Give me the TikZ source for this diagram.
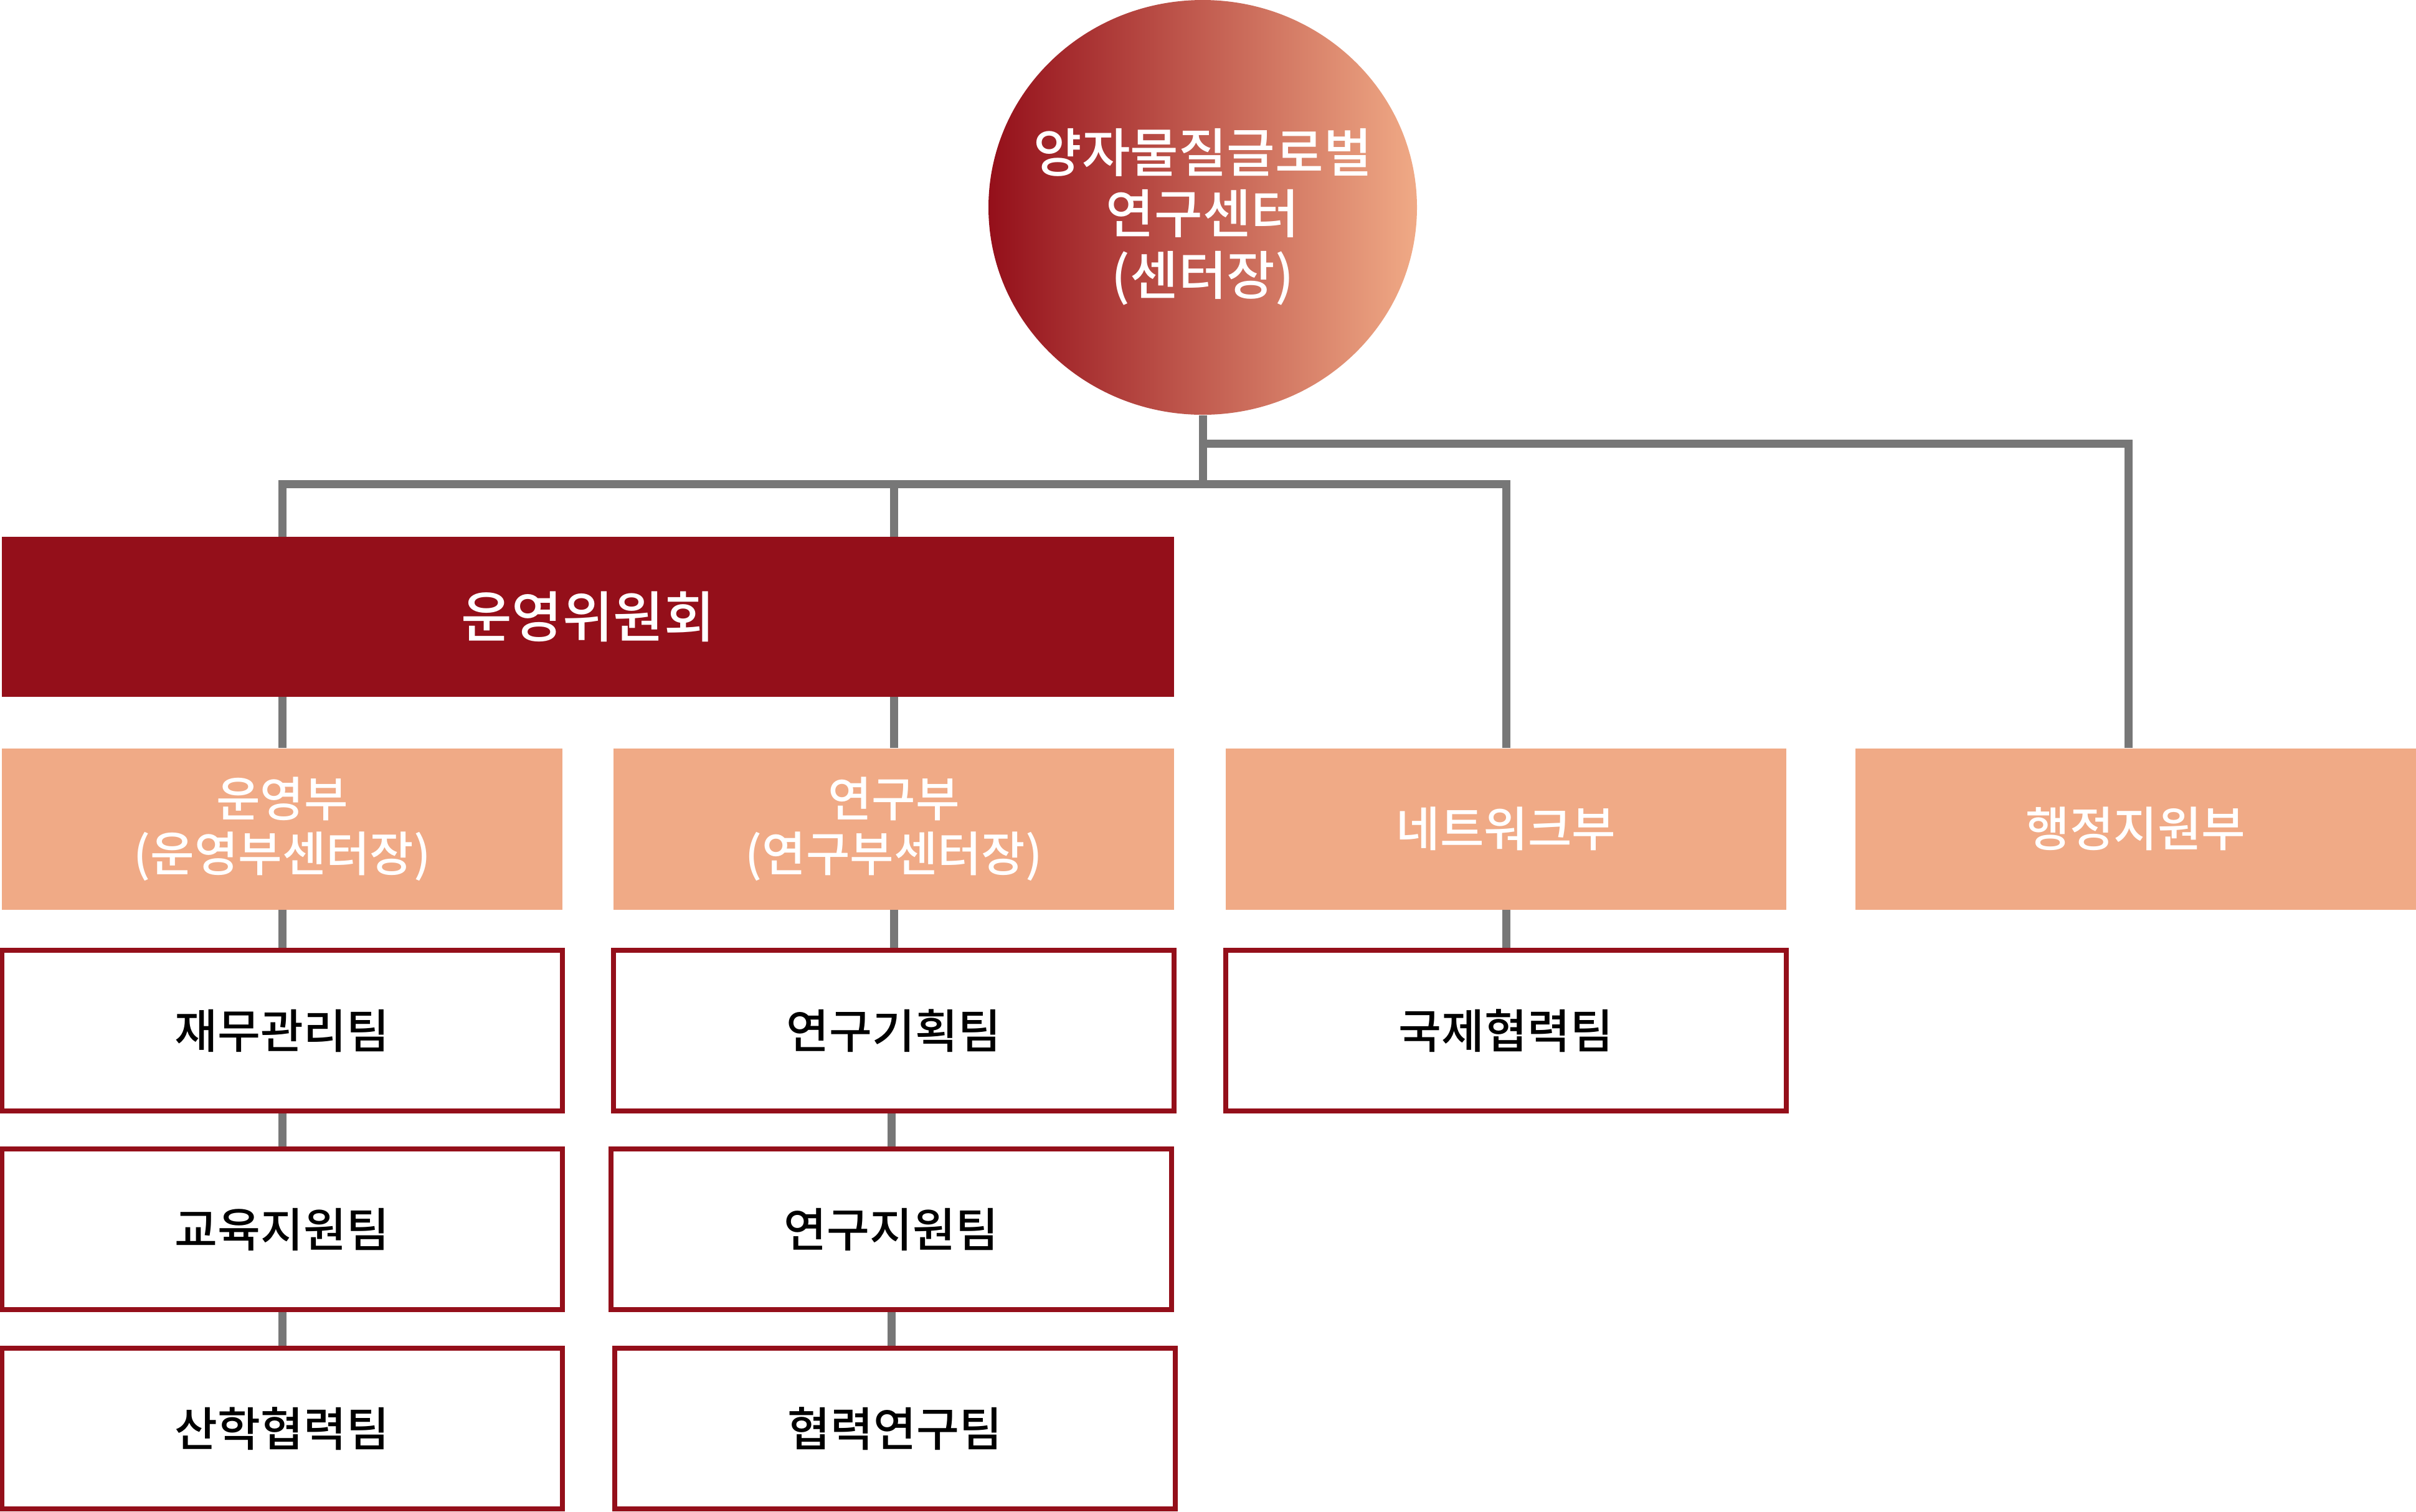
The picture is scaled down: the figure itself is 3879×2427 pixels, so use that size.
\documentclass[tikz,border=0pt]{standalone}
\usepackage{fontspec}
\setmainfont{Noto Sans CJK KR}[UprightFont=* Medium, BoldFont=* Bold]
\usepackage{xcolor}
\usepackage{tikz}
\definecolor{boardred}{HTML}{940F1A}
\definecolor{deptpeach}{HTML}{F0AA86}
\definecolor{linkgray}{HTML}{777777}
\usetikzlibrary{shapes.geometric, positioning}
\pgfdeclarelayer{bg}
\pgfsetlayers{bg,main}
\tikzset{
  dept/.style={rectangle, fill=deptpeach, text=white, minimum width=90mm, minimum height=25.9mm, align=center, inner sep=0pt, font=\fontsize{21.8pt}{25pt}\selectfont},
  team/.style={rectangle, draw=boardred, line width=0.8mm, fill=white, minimum width=90mm, minimum height=25.8mm, align=center, inner sep=0pt, font=\fontsize{21.3pt}{24pt}\selectfont},
  link/.style={draw=linkgray, line width=1.3mm}
}

\begin{document}
\begin{tikzpicture}[x=0.1mm, y=-0.1mm]
			\useasboundingbox (0,0) rectangle (3879,2427);
			\node[ellipse, minimum width=68.8mm, minimum height=66.6mm, inner sep=-4mm, left color=boardred, middle color={rgb,255:red,181;green,68;blue,62}, right color=deptpeach, text=white, align=center, font=\fontsize{24pt}{28pt}\selectfont] (center) at (1931,333) {\rule{0pt}{10mm}양자물질글로벌\\연구센터\\(센터장)};
			\node[rectangle, fill=boardred, text=white, minimum width=188.2mm, minimum height=25.7mm, inner sep=0pt, font=\fontsize{25.2pt}{28pt}\selectfont] (board) at (944,990) {운영위원회};
			
			\node[dept] (ops) at (453,1331) {운영부\\(운영부센터장)};
			\node[dept] (res) at (1435,1331) {연구부\\(연구부센터장)};
			\node[dept] (net) at (2418,1331) {네트워크부};
			\node[dept] (admin) at (3429,1331) {행정지원부};
			
			\node[team] (fin) at (453,1655) {재무관리팀};
			\node[team] (edu) at (453,1974) {교육지원팀};
			\node[team] (ind) at (453,2294) {산학협력팀};
			
			\node[team] (plan) at (1435,1655) {연구기획팀};
			\node[team] (sup) at (1431,1974) {연구지원팀};
			\node[team] (coop) at (1437,2294) {협력연구팀};
			
			\node[team] (intl) at (2418,1655) {국제협력팀};
			
			\coordinate (lowhub) at (1931,777);
			\coordinate (highhub) at (1931,712);
			
			\begin{pgfonlayer}{bg}
			\draw[link] (center) -- (lowhub);
			\draw[link] (lowhub) -| (ops);
			\draw[link] (lowhub) -| (res);
			\draw[link] (lowhub) -| (net);
			\draw[link] (highhub) -| ([xshift=-1.2mm]admin.north);
			
			\draw[link] (ops) -- (fin) -- (edu) -- (ind);
			\draw[link] (res) -- (plan);
			\draw[link] (sup) -- (sup |- plan);
			\draw[link] (sup) -- (sup |- coop);
			\draw[link] (net) -- (intl);
			\end{pgfonlayer}
			
			\end{tikzpicture}
\end{document}
